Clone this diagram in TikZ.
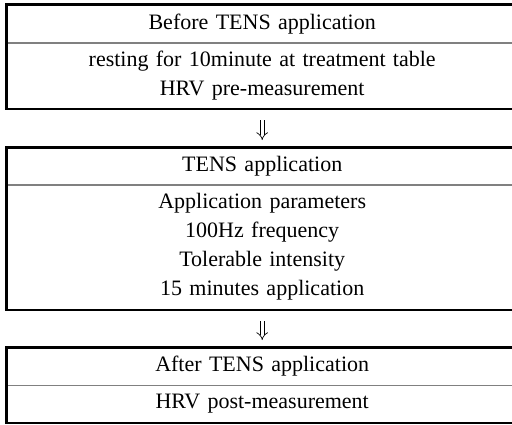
\documentclass[tikz,border=0pt]{standalone}
\usepackage{fontspec}
\setmainfont{Liberation Serif}[WordSpace=3.4]
\usetikzlibrary{arrows.meta}
\begin{document}
\begin{tikzpicture}[x=1pt, y=-1pt,
  row/.style={inner sep=0pt, minimum width=511pt, text width=505pt, align=center,
    font=\fontsize{22}{28.5}\selectfont, anchor=north west},
  frame/.style={line width=2.4pt, black},
  sep/.style={line width=1.4pt, black!50},
  flow/.style={double, double distance=3.4pt, line width=0.7pt, -{Implies},
    shorten <=11.5pt, shorten >=7.5pt}]
\useasboundingbox (0,0) rectangle (512,424);

% stage 1
\node[row, minimum height=38pt] (b1t) at (6.5,4.5) {Before TENS application};
\node[row, minimum height=66pt] (b1b) at (6.5,42.5)
  {resting for 10minute at treatment table\\HRV pre-measurement};
% stage 2
\node[row, minimum height=37pt] (b2t) at (6.5,147.5) {TENS application};
\node[row, minimum height=125pt, font=\fontsize{22}{29}\selectfont] (b2b) at (6.5,184.5)
  {Application parameters\\100Hz frequency\\Tolerable intensity\\15 minutes application};
% stage 3
\node[row, minimum height=37.5pt] (b3t) at (6.5,347.5) {After TENS application};
\node[row, minimum height=37.5pt] (b3b) at (6.5,385) {HRV post-measurement};

% row separators, then outer frames
\draw[sep] (b1t.south west) -- (b1t.south east);
\draw[sep] (b2t.south west) -- (b2t.south east);
\draw[sep] (b3t.south west) -- (b3t.south east);
\draw[frame] (b1t.north west) rectangle (b1b.south east);
\draw[frame] (b2t.north west) rectangle (b2b.south east);
\draw[frame] (b3t.north west) rectangle (b3b.south east);

% flow arrows
\draw[flow] (b1b.south) -- (b2t.north);
\draw[flow] (b2b.south) -- (b3t.north);
\end{tikzpicture}
\end{document}
